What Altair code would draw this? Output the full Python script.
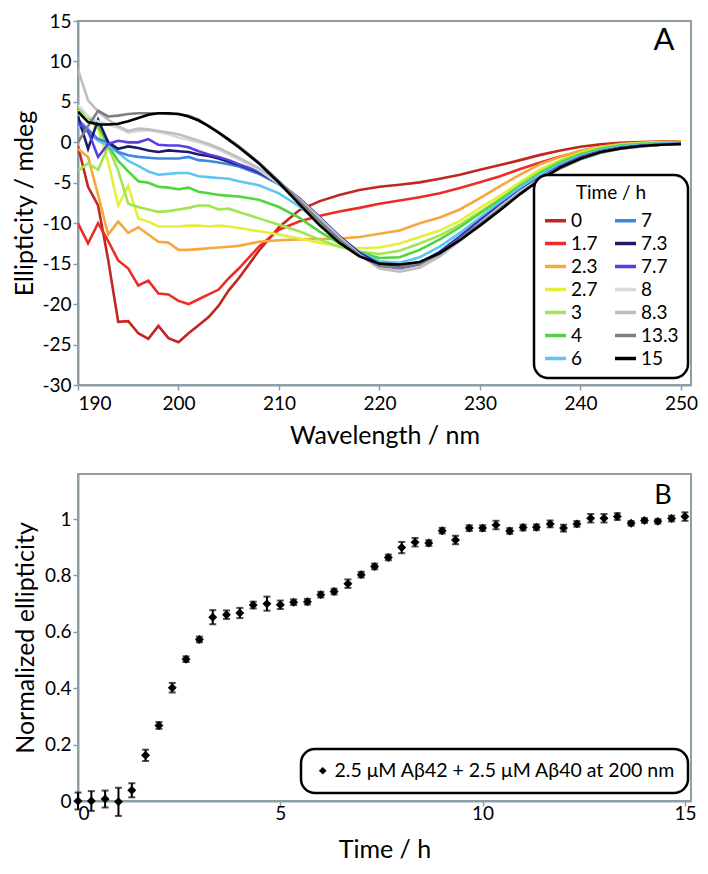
import altair as alt
import pandas as pd

# ---------------- Panel A data ----------------
WAVELENGTH = list(range(190, 207)) + list(range(208, 251, 2))

T_0 = [-0.5, -5.5, -7.8, -14.5, -22.2, -22.1, -23.6, -24.3, -22.7, -24.2, -24.7, -23.6, -22.6, -21.6, -20.2, -18.3, -16.8,
       -13.4, -10.5, -8.4, -7.3, -6.5, -5.9, -5.5, -5.25, -4.95, -4.5, -4.0, -3.4, -2.8, -2.2, -1.55, -1.0, -0.55, -0.25, -0.05, 0.05, 0.1, 0.1]
T_1_7 = [-10.0, -12.5, -10.0, -12.2, -14.6, -15.6, -17.7, -17.1, -18.7, -18.8, -19.6, -20.0, -19.4, -18.8, -18.2, -16.8, -15.6,
         -12.9, -10.8, -9.8, -9.1, -8.55, -8.1, -7.6, -7.2, -6.8, -6.3, -5.65, -4.95, -4.2, -3.3, -2.5, -1.75, -1.15, -0.65, -0.3, -0.1, 0.05, 0.1]
T_2_3 = [-0.8, -1.8, -6.5, -11.4, -9.8, -11.2, -10.5, -11.4, -12.3, -12.4, -13.3, -13.3, -13.2, -13.1, -13.0, -12.9, -12.8,
         -12.3, -12.1, -12.0, -11.95, -11.9, -11.7, -11.3, -10.9, -10.0, -9.3, -8.3, -6.9, -5.4, -4.0, -2.7, -1.8, -1.0, -0.55, -0.2, -0.05, 0.05, 0.1]
T_2_7 = [4.0, 3.0, 1.6, -2.4, -7.8, -5.4, -9.4, -9.8, -10.4, -10.4, -10.4, -10.3, -10.3, -10.4, -10.3, -10.4, -10.6,
         -11.0, -11.4, -11.9, -12.4, -12.85, -13.1, -13.0, -12.5, -11.7, -10.9, -9.7, -8.1, -6.6, -4.9, -3.3, -2.2, -1.3, -0.65, -0.3, -0.1, 0.0, 0.05]
T_3 = [-3.5, -2.6, -3.4, -0.5, -3.5, -7.6, -8.0, -8.3, -8.6, -8.5, -8.3, -8.1, -7.8, -7.8, -8.3, -8.2, -8.6,
       -9.4, -10.2, -11.0, -12.0, -12.9, -13.5, -13.8, -13.4, -12.5, -11.5, -10.2, -8.6, -7.0, -5.2, -3.6, -2.3, -1.4, -0.75, -0.35, -0.15, -0.05, 0.0]
T_4 = [4.4, 3.2, 2.0, -0.4, -2.3, -3.6, -4.8, -5.0, -5.5, -5.6, -5.8, -5.6, -6.1, -6.3, -6.5, -6.6, -6.7,
       -7.1, -8.0, -9.3, -11.0, -12.5, -13.6, -14.3, -14.2, -13.3, -12.0, -10.5, -8.8, -7.1, -5.4, -3.8, -2.5, -1.5, -0.8, -0.4, -0.2, -0.1, 0.0]
T_6 = [2.0, 1.2, 0.2, -0.4, -1.3, -2.3, -2.9, -3.6, -4.0, -3.9, -3.8, -3.8, -4.2, -4.3, -4.4, -4.5, -4.8,
       -5.3, -6.3, -7.9, -9.9, -11.9, -13.6, -14.7, -14.9, -14.2, -12.9, -11.2, -9.3, -7.4, -5.6, -4.0, -2.7, -1.7, -0.95, -0.5, -0.3, -0.15, -0.1]
T_7 = [2.8, 1.6, 0.4, 0.0, -1.2, -1.6, -1.8, -1.9, -2.0, -2.0, -2.0, -1.8, -2.2, -2.3, -2.5, -2.7, -3.0,
       -3.9, -5.2, -7.0, -9.3, -11.6, -13.6, -15.0, -15.4, -14.9, -13.5, -11.6, -9.6, -7.7, -5.9, -4.3, -2.9, -1.8, -1.1, -0.65, -0.4, -0.25, -0.15]
T_7_3 = [3.2, -0.8, 2.8, 0.0, -0.8, -0.5, -0.7, -1.0, -1.2, -1.0, -1.1, -1.2, -1.5, -1.7, -2.0, -2.4, -2.8,
         -3.7, -5.0, -6.9, -9.2, -11.6, -13.7, -15.1, -15.5, -15.0, -13.6, -11.7, -9.7, -7.8, -6.0, -4.4, -3.0, -1.9, -1.15, -0.7, -0.45, -0.3, -0.2]
T_7_7 = [2.4, 1.4, -1.8, -0.2, 0.2, 0.0, 0.0, 0.4, -0.3, -0.4, -0.4, -0.6, -1.1, -1.5, -1.8, -2.2, -2.7,
         -3.6, -5.0, -6.9, -9.2, -11.7, -13.8, -15.3, -15.6, -15.1, -13.7, -11.8, -9.8, -7.9, -6.0, -4.4, -3.0, -1.9, -1.15, -0.7, -0.45, -0.3, -0.2]
T_8 = [4.6, 3.2, 2.6, 2.2, 1.8, 1.2, 1.4, 1.5, 1.3, 1.0, 0.6, 0.3, 0.0, -0.4, -0.9, -1.5, -2.1,
       -3.4, -5.1, -7.1, -9.4, -11.8, -13.9, -15.5, -15.9, -15.4, -14.0, -12.1, -10.0, -8.0, -6.1, -4.5, -3.1, -2.0, -1.2, -0.75, -0.5, -0.3, -0.2]
T_8_3 = [9.0, 5.2, 3.8, 2.8, 2.0, 1.4, 1.7, 1.6, 1.4, 1.2, 1.0, 0.6, 0.2, -0.2, -0.7, -1.3, -1.9,
         -3.2, -4.9, -7.0, -9.3, -11.7, -13.9, -15.6, -16.0, -15.5, -14.1, -12.2, -10.1, -8.1, -6.2, -4.6, -3.2, -2.1, -1.3, -0.8, -0.5, -0.3, -0.2]
T_13_3 = [0.0, 2.0, 3.9, 3.2, 3.3, 3.5, 3.6, 3.6, 3.6, 3.5, 3.5, 3.3, 2.8, 2.0, 1.2, 0.4, -0.5,
          -2.5, -4.8, -7.2, -9.7, -12.0, -14.0, -15.3, -15.5, -15.0, -13.8, -12.0, -10.1, -8.2, -6.3, -4.6, -3.2, -2.1, -1.3, -0.8, -0.5, -0.3, -0.2]
T_15 = [3.8, 2.5, 2.2, 2.2, 2.3, 2.6, 3.0, 3.4, 3.6, 3.6, 3.5, 3.2, 2.7, 2.0, 1.2, 0.3, -0.6,
        -2.6, -5.0, -7.6, -10.2, -12.4, -14.1, -15.0, -15.1, -14.8, -13.7, -12.1, -10.3, -8.4, -6.4, -4.6, -3.1, -2.0, -1.2, -0.75, -0.45, -0.3, -0.2]

TIME_LABELS = ["0", "1.7", "2.3", "2.7", "3", "4", "6", "7", "7.3", "7.7", "8", "8.3", "13.3", "15"]
SERIES = [T_0, T_1_7, T_2_3, T_2_7, T_3, T_4, T_6, T_7, T_7_3, T_7_7, T_8, T_8_3, T_13_3, T_15]
COLORS = ["#c0281f", "#ee2b25", "#f6a83c", "#e4ef3a", "#9fe652", "#4fd63c", "#5fc6f2", "#3e86e2",
          "#1c1b6b", "#5b3de0", "#d3dbdb", "#bdbfbf", "#7c8083", "#000000"]

# ---------------- Panel B data ----------------
TIME_H = [0, 0.33, 0.67, 1, 1.33, 1.67, 2, 2.33, 2.67, 3, 3.33, 3.67, 4, 4.33, 4.67, 5, 5.33, 5.67,
          6, 6.33, 6.67, 7, 7.33, 7.67, 8, 8.33, 8.67, 9, 9.33, 9.67, 10, 10.33, 10.67, 11, 11.33, 11.67,
          12, 12.33, 12.67, 13, 13.33, 13.67, 14, 14.33, 14.67, 15]
NORM = [0.0, 0.0, 0.007, -0.003, 0.038, 0.162, 0.268, 0.402, 0.503, 0.573, 0.652, 0.661, 0.667, 0.695,
        0.700, 0.696, 0.705, 0.707, 0.732, 0.743, 0.771, 0.803, 0.832, 0.864, 0.899, 0.918, 0.915, 0.959,
        0.926, 0.968, 0.968, 0.979, 0.958, 0.970, 0.971, 0.983, 0.968, 0.983, 1.003, 1.003, 1.009, 0.985,
        0.995, 0.992, 1.002, 1.009]
ERR = [0.03, 0.035, 0.03, 0.05, 0.025, 0.02, 0.012, 0.017, 0.01, 0.01, 0.025, 0.015, 0.018, 0.012, 0.025,
       0.015, 0.01, 0.01, 0.01, 0.01, 0.015, 0.01, 0.01, 0.01, 0.02, 0.015, 0.01, 0.01, 0.015, 0.01, 0.01,
       0.015, 0.01, 0.01, 0.01, 0.012, 0.012, 0.01, 0.015, 0.015, 0.012, 0.008, 0.008, 0.008, 0.01, 0.015]
B_LABEL = "2.5 μM Aβ42 + 2.5 μM Aβ40 at 200 nm"

FONT = "Lato"
AXIS_GRAY = "#8e9ea6"
WA, HA = 613, 364
WB, HB = 613, 327

rows = []
for lab, vals in zip(TIME_LABELS, SERIES):
    for i, (w, v) in enumerate(zip(WAVELENGTH, vals)):
        rows.append({"wavelength": w, "ellipticity": v, "time": lab, "idx": i})
spec = pd.DataFrame(rows)

lines = alt.Chart(spec).mark_line(strokeWidth=2.6, clip=True).encode(
    x=alt.X("wavelength:Q", scale=alt.Scale(domain=[190, 251], nice=False, zero=False),
            axis=alt.Axis(values=list(range(190, 251, 10)), title="Wavelength / nm",
                          labelPadding=4, titlePadding=10)),
    y=alt.Y("ellipticity:Q", scale=alt.Scale(domain=[-30, 15], nice=False, zero=False),
            axis=alt.Axis(values=list(range(-30, 16, 5)), title="Ellipticity / mdeg",
                          labelExpr="'' + datum.value", titlePadding=4)),
    color=alt.Color("time:N",
                    scale=alt.Scale(domain=TIME_LABELS, range=COLORS),
                    legend=alt.Legend(title="Time / h", orient="none", legendX=WA - 157, legendY=HA - 210,
                                      columns=2, columnPadding=10, rowPadding=0,
                                      symbolType="stroke", symbolSize=441, symbolStrokeWidth=3.5,
                                      labelFontSize=19, titleFontSize=19, titleFontWeight="normal",
                                      titleAnchor="middle", titlePadding=5, labelOffset=3,
                                      padding=9)),
    order=alt.Order("idx:Q"),
)

label_a = alt.Chart(pd.DataFrame({"t": ["A"]})).mark_text(
    font=FONT, fontSize=31, align="center", baseline="middle", color="black"
).encode(x=alt.value(WA - 27), y=alt.value(20), text="t:N")

panel_a = alt.layer(lines, label_a).properties(width=WA, height=HA)

kin = pd.DataFrame({"t": TIME_H, "v": NORM, "e": ERR})
kin["lo"] = kin["v"] - kin["e"]
kin["hi"] = kin["v"] + kin["e"]
kin["series"] = B_LABEL

xB = alt.X("t:Q", scale=alt.Scale(domain=[0, 15.15], nice=False, zero=False),
           axis=alt.Axis(values=[0, 5, 10, 15], title="Time / h", labelPadding=-2, titlePadding=14))
yB = alt.Y("v:Q", scale=alt.Scale(domain=[0, 1.16], nice=False, zero=False),
           axis=alt.Axis(values=[0, 0.2, 0.4, 0.6, 0.8, 1.0], format="~g",
                         title="Normalized ellipticity", titlePadding=6))

SPACING = 24
B_TOP = HA + 65 + SPACING  # B plot top relative to A plot top

base_b = alt.Chart(kin)
err = base_b.mark_rule(color="black", strokeWidth=2).encode(x=xB, y="lo:Q", y2="hi:Q")
cap_lo = base_b.mark_tick(color="black", thickness=2, size=7, orient="horizontal").encode(x=xB, y="lo:Q")
cap_hi = base_b.mark_tick(color="black", thickness=2, size=7, orient="horizontal").encode(x=xB, y="hi:Q")
pts = base_b.mark_point(filled=True, size=80, color="black", opacity=1).encode(
    x=xB, y=yB,
    shape=alt.Shape("series:N", scale=alt.Scale(range=["diamond"]),
                    legend=alt.Legend(title=None, orient="none", legendX=WB - 390,
                                      legendY=B_TOP + HB - 52,
                                      labelFontSize=19.5, symbolSize=60, symbolFillColor="black",
                                      symbolStrokeColor="black", labelOffset=2,
                                      padding=12, labelLimit=500)),
)
label_b = alt.Chart(pd.DataFrame({"t": ["B"]})).mark_text(
    font=FONT, fontSize=27, align="center", baseline="middle", color="black"
).encode(x=alt.value(WB - 28), y=alt.value(22), text="t:N")

panel_b = alt.layer(err, cap_lo, cap_hi, pts, label_b).properties(width=WB, height=HB)

chart = alt.vconcat(panel_a, panel_b, spacing=SPACING).properties(
    padding={"top": 3, "left": 3, "right": 0, "bottom": 0}
).configure_view(
    stroke=AXIS_GRAY, strokeWidth=2
).configure_axis(
    grid=False, domainColor=AXIS_GRAY, domainWidth=2, tickColor=AXIS_GRAY, tickWidth=1.5, tickSize=5,
    labelFont=FONT, labelFontSize=19, labelColor="black",
    titleFont=FONT, titleFontSize=25, titleFontWeight="normal", titleColor="black",
).configure_legend(
    strokeColor="black", strokeWidth=2.5, cornerRadius=14, fillColor="white",
    labelFont=FONT, titleFont=FONT, labelColor="black", titleColor="black",
)

chart.save("out.html", embed_options={"renderer": "svg", "actions": False})
